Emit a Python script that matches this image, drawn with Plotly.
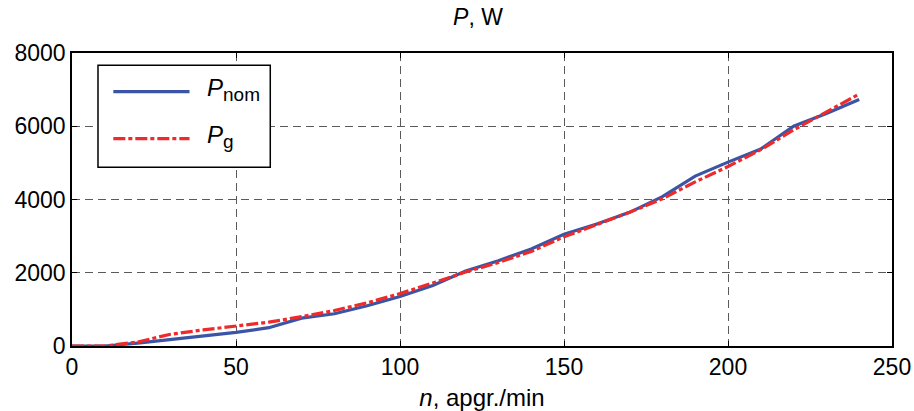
import plotly.graph_objects as go

# Rotational speed, rpm (apgr./min)
n_rpm = [0, 10, 20, 30, 40, 50, 60, 70, 80, 90, 100, 110, 120,
         130, 140, 150, 160, 170, 180, 190, 200, 210, 220, 230, 240]

# Nominal power, W
p_nom = [0, 0, 80, 170, 270, 370, 500, 760, 880, 1100, 1350, 1650, 2050,
         2330, 2650, 3050, 3330, 3650, 4080, 4640, 5020, 5380, 6000, 6350, 6730]

# Generator power, W
p_g = [0, 0, 110, 320, 440, 550, 650, 800, 970, 1180, 1430, 1720, 2020,
       2280, 2580, 2980, 3320, 3650, 4020, 4480, 4900, 5360, 5900, 6400, 6880]

x_ticks = [0, 50, 100, 150, 200, 250]
y_ticks = [0, 2000, 4000, 6000, 8000]

BLUE = "#3A55A5"
RED = "#EE2A2A"
RED_DASH = "12px,3px,4px,3px"
FONT = "Liberation Sans, Arial, sans-serif"

fig = go.Figure()
fig.add_trace(go.Scatter(x=n_rpm, y=p_nom, mode="lines", name="P nom",
                         line=dict(color=BLUE, width=3.2), showlegend=False))
fig.add_trace(go.Scatter(x=n_rpm, y=p_g, mode="lines", name="P g",
                         line=dict(color=RED, width=3.2, dash=RED_DASH),
                         showlegend=False))

axis_common = dict(
    showline=True, linecolor="black", linewidth=1.5, mirror="ticks",
    ticks="inside", ticklen=5, tickcolor="black", tickwidth=1,
    showgrid=True, gridcolor="#5a5a5a", gridwidth=1, griddash="8px,5px",
    zeroline=False, automargin=False,
    tickfont=dict(family=FONT, size=23, color="black"),
)

fig.update_xaxes(range=[0, 250], tickvals=x_ticks, **axis_common,
                 title=dict(text="<i>n</i>, apgr./min",
                            font=dict(family=FONT, size=24, color="black"),
                            standoff=10))
fig.update_yaxes(range=[0, 8000], tickvals=y_ticks, **axis_common)

# Legend box drawn in paper coordinates
lx0, lx1, ly0, ly1 = 0.0317, 0.2418, 0.610, 0.958
fig.add_shape(type="rect", xref="paper", yref="paper",
              x0=lx0, x1=lx1, y0=ly0, y1=ly1,
              line=dict(color="black", width=1.5), fillcolor="white")
fig.add_shape(type="line", xref="paper", yref="paper",
              x0=0.0504, x1=0.1433, y0=0.868, y1=0.868,
              line=dict(color=BLUE, width=3.2))
fig.add_shape(type="line", xref="paper", yref="paper",
              x0=0.0504, x1=0.1433, y0=0.7075, y1=0.7075,
              line=dict(color=RED, width=3.2, dash=RED_DASH))
SUB = "<sub><span style='font-size:19px'>{}</span></sub>"
fig.add_annotation(xref="paper", yref="paper", x=0.162, y=0.875,
                   xanchor="left", yanchor="middle", showarrow=False,
                   text="<i>P</i>" + SUB.format("nom"),
                   font=dict(family=FONT, size=24, color="black"))
fig.add_annotation(xref="paper", yref="paper", x=0.162, y=0.714,
                   xanchor="left", yanchor="middle", showarrow=False,
                   text="<i>P</i>" + SUB.format("g"),
                   font=dict(family=FONT, size=24, color="black"))

fig.update_layout(
    width=914, height=411,
    margin=dict(l=72, r=22, t=53, b=65, autoexpand=False),
    paper_bgcolor="white", plot_bgcolor="white",
    title=dict(text="<i>P</i>, W", x=0.523, xanchor="center",
               y=0.958, yanchor="middle",
               font=dict(family=FONT, size=23, color="black")),
    showlegend=False,
)

fig.write_html("out.html")
